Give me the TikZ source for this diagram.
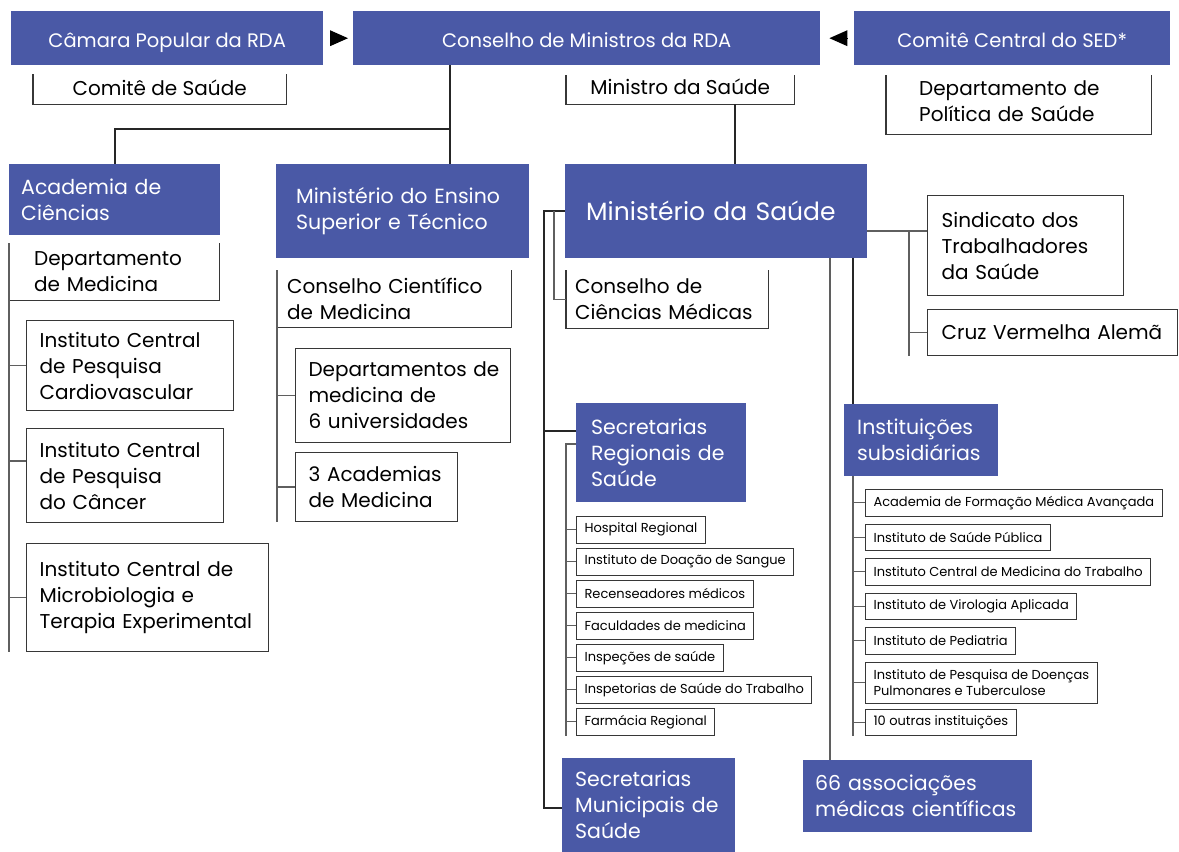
\documentclass[tikz,border=0pt]{standalone}
\usepackage{fontspec}
\setmainfont{Poppins}
\usepackage{tikz}
\usetikzlibrary{positioning}
\usetikzlibrary{arrows.meta}
\definecolor{ddrblue}{RGB}{74,89,166}
\definecolor{linegray}{RGB}{95,95,95}
\definecolor{boxgray}{RGB}{55,55,55}
\tikzset{
head_box/.style={rectangle, fill=ddrblue, text=white, anchor=north west, minimum height=54pt, inner sep=0pt, text height=18pt, text depth=0pt, font=\fontsize{19.5}{24}\selectfont},
blue_box/.style={rectangle, fill=ddrblue, text=white, anchor=north west, align=left, inner sep=0pt, font=\fontsize{20.5}{26}\selectfont},
open_box/.style={rectangle, anchor=north west, align=left, inner sep=0pt, font=\fontsize{20}{26}\selectfont},
frame_box/.style={rectangle, draw=boxgray, line width=1.2pt, anchor=north west, align=left, inner sep=0pt, font=\fontsize{20}{26}\selectfont},
list_item/.style={rectangle, draw=boxgray, line width=1.1pt, anchor=north west, align=left, inner xsep=8pt, inner ysep=0pt, minimum height=26.5pt, font=\fontsize{13}{16}\selectfont},
text_indent/.style={execute at begin node={\leftskip=#1\relax}},
main_line/.style={draw=black!85, line width=2pt},
sub_line/.style={draw=linegray, line width=1.3pt},
bracket/.style={draw=boxgray, line width=1.2pt},
tri_arrow/.style={-{Triangle[length=18pt, width=16pt]}, line width=0pt, fill=black}
}

\begin{document}
\begin{tikzpicture}[x=1pt, y=-1pt]
    \useasboundingbox (0,0) rectangle (1179,852);
    % top row
    \node[head_box, minimum width=312pt] (camara) at (11,11) {Câmara Popular da RDA};
    \node[head_box, minimum width=467pt] (min_council) at (353,11) {Conselho de Ministros da RDA};
    \node[head_box, minimum width=316pt] (sed) at (854,11) {Comitê Central do SED*};
    \draw[tri_arrow, shorten <=7pt, shorten >=5pt] (camara) -- (min_council);
    \draw[tri_arrow, shorten <=7pt, shorten >=9pt] (sed) -- (min_council);

    \node[open_box, minimum width=253pt, minimum height=27pt, align=center] (health_committee) at (33,74) {Comitê de Saúde};
    \node[open_box, minimum width=228pt, minimum height=24pt, align=center] (health_minister) at (566,75) {Ministro da Saúde};
    \node[open_box, text width=265pt, text_indent=33pt, minimum height=51pt] (policy_dept) at (886,75) {Departamento de\\Política de Saúde};
    \draw[bracket] (health_committee.north west) |- ([yshift=-3pt]health_committee.south east) -- (health_committee.north east);
    \draw[bracket] (health_minister.north west) |- ([yshift=-5pt]health_minister.south east) -- (health_minister.north east);
    \draw[bracket] (policy_dept.north west) |- ([yshift=-8pt]policy_dept.south east) -- (policy_dept.north east);

    % ministries
    \node[blue_box, text width=211pt, text_indent=12pt, minimum height=71pt] (academy) at (9,164) {Academia de\\Ciências};
    \node[blue_box, text width=253pt, text_indent=20pt, minimum height=94pt] (higher_edu) at (276,164) {Ministério do Ensino\\Superior e Técnico};
    \node[blue_box, text width=302pt, text_indent=21pt, minimum height=94pt, font=\fontsize{25}{30}\selectfont] (health_ministry) at (565,164) {Ministério da Saúde};

    % academia de ciencias
    \node[open_box, text width=210pt, text_indent=25pt, minimum height=57pt] (med_dept) at (9,243) {Departamento\\de Medicina};
    \node[frame_box, text width=207pt, text_indent=13pt, minimum height=90pt] (cardio) at (26,320) {Instituto Central\\de Pesquisa\\Cardiovascular};
    \node[frame_box, text width=197pt, text_indent=13pt, minimum height=94pt] (cancer) at (26,428) {Instituto Central\\de Pesquisa\\do Câncer};
    \node[frame_box, text width=242pt, text_indent=13pt, minimum height=108pt] (microbio) at (26,543) {Instituto Central de\\Microbiologia e\\Terapia Experimental};

    % ensino superior
    \node[open_box, text width=234pt, text_indent=10pt, minimum height=57pt] (sci_council) at (277,270) {Conselho Científico\\de Medicina};
    \node[frame_box, text width=215pt, text_indent=13pt, minimum height=94pt] (univ_depts) at (295,348) {Departamentos de\\medicina de\\6 universidades};
    \node[frame_box, text width=162pt, text_indent=13pt, minimum height=69pt] (med_academies) at (295,452) {3 Academias\\de Medicina};

    % saude
    \node[open_box, text width=202pt, text_indent=9pt, minimum height=58pt] (med_council) at (566,270) {Conselho de\\Ciências Médicas};
    \node[frame_box, text width=196pt, text_indent=14pt, minimum height=100pt] (union) at (927,195) {Sindicato dos\\Trabalhadores\\da Saúde};
    \node[frame_box, text width=250pt, text_indent=14pt, minimum height=46pt] (red_cross) at (927,309) {Cruz Vermelha Alemã};
    \node[blue_box, text width=170pt, text_indent=15pt, minimum height=99pt] (regional) at (576,403) {Secretarias\\Regionais de\\Saúde};
    \node[blue_box, text width=173pt, text_indent=13pt, minimum height=94pt] (municipal) at (562,758) {Secretarias\\Municipais de\\Saúde};
    \node[blue_box, text width=154pt, text_indent=13pt, minimum height=72pt] (subsidiary) at (844,404) {Instituições\\subsidiárias};
    \node[blue_box, text width=229pt, text_indent=12pt, minimum height=72pt] (associations) at (803,760) {66 associações\\médicas científicas};

    \node[list_item] (hospital) at (576,516) {Hospital Regional};
    \node[list_item, below=4.4pt of hospital.south west, anchor=north west] (blood) {Instituto de Doação de Sangue};
    \node[list_item, below=4.4pt of blood.south west, anchor=north west] (census) {Recenseadores médicos};
    \node[list_item, below=4.4pt of census.south west, anchor=north west] (faculties) {Faculdades de medicina};
    \node[list_item, below=4.4pt of faculties.south west, anchor=north west] (inspections) {Inspeções de saúde};
    \node[list_item, below=4.4pt of inspections.south west, anchor=north west] (labour_insp) {Inspetorias de Saúde do Trabalho};
    \node[list_item, below=4.4pt of labour_insp.south west, anchor=north west] (pharmacy) {Farmácia Regional};

    \node[list_item] (adv_training) at (865,489) {Academia de Formação Médica Avançada};
    \node[list_item, below=6.9pt of adv_training.south west, anchor=north west] (public_health) {Instituto de Saúde Pública};
    \node[list_item, below=6.9pt of public_health.south west, anchor=north west] (occupational) {Instituto Central de Medicina do Trabalho};
    \node[list_item, below=6.9pt of occupational.south west, anchor=north west] (virology) {Instituto de Virologia Aplicada};
    \node[list_item, below=6.9pt of virology.south west, anchor=north west] (pediatrics) {Instituto de Pediatria};
    \node[list_item, below=6.9pt of pediatrics.south west, anchor=north west, minimum height=41pt] (pulmonary) {Instituto de Pesquisa de Doenças\\Pulmonares e Tuberculose};
    \node[list_item, below=4.9pt of pulmonary.south west, anchor=north west] (others) {10 outras instituições};

    % open boxes
    \draw[bracket] (med_dept.north west) |- (med_dept.south east) -- (med_dept.north east);
    \draw[bracket] (sci_council.north west) |- (sci_council.south east) -- (sci_council.north east);
    \draw[bracket] (med_council.north west) |- (med_council.south east) -- (med_council.north east);

    % main links
    \coordinate (edu_split) at (450,129);
    \draw[main_line] (edu_split |- min_council.south) -- (edu_split) -| (academy.north);
    \draw[main_line] (edu_split) -- (edu_split |- higher_edu.north);
    \coordinate (minister_link) at (735,104);
    \draw[main_line] (minister_link) -- (minister_link |- health_ministry.north);
    \coordinate (left_spine) at (544,0);
    \coordinate (regional_in) at ([yshift=-28pt]regional.north west);
    \coordinate (municipal_in) at ([yshift=-50pt]municipal.north west);
    \draw[main_line] (health_ministry.west) -| (left_spine |- municipal_in) -- (municipal_in);
    \draw[main_line] (left_spine |- regional_in) -- (regional_in);
    \coordinate (sub_spine) at (853,0);
    \draw[main_line] (sub_spine |- health_ministry.south) -- (sub_spine |- subsidiary.north);

    % academia de ciencias links
    \draw[sub_line] (med_dept.north west) -- (med_dept.north west |- microbio.south);
    \draw[sub_line] (med_dept.west |- cardio.west) -- (cardio.west);
    \draw[sub_line] (med_dept.west |- 0,461) -- (cancer.west |- 0,461);
    \draw[sub_line] (med_dept.west |- microbio.west) -- (microbio.west);

    % ensino superior links
    \draw[sub_line] (sci_council.north west) -- (sci_council.north west |- med_academies.south);
    \draw[sub_line] (sci_council.west |- univ_depts.west) -- (univ_depts.west);
    \draw[sub_line] (sci_council.west |- med_academies.west) -- (med_academies.west);

    % saude links
    \coordinate (council_link) at (554,0);
    \draw[sub_line] (council_link |- health_ministry.west) -- (council_link |- med_council.west) -- (med_council.west);
    \coordinate (assoc_link) at (830,0);
    \draw[sub_line] (assoc_link |- health_ministry.south) -- (assoc_link |- associations.north);
    \coordinate (union_split) at (909,0);
    \coordinate (right_out) at ([yshift=-67pt]health_ministry.north east);
    \draw[sub_line] (right_out) -- (union.west |- right_out);
    \draw[sub_line] (union_split |- right_out) -- (union_split |- red_cross.south);
    \draw[sub_line] (union_split |- red_cross.west) -- (red_cross.west);

    % secretarias regionais
    \coordinate (reg_spine) at (566,0);
    \draw[sub_line] ([yshift=-41pt]regional.north west) -| (reg_spine |- pharmacy.south);
    \draw[sub_line] (reg_spine |- hospital.west) -- (hospital.west);
    \draw[sub_line] (reg_spine |- blood.west) -- (blood.west);
    \draw[sub_line] (reg_spine |- census.west) -- (census.west);
    \draw[sub_line] (reg_spine |- faculties.west) -- (faculties.west);
    \draw[sub_line] (reg_spine |- inspections.west) -- (inspections.west);
    \draw[sub_line] (reg_spine |- labour_insp.west) -- (labour_insp.west);
    \draw[sub_line] (reg_spine |- pharmacy.west) -- (pharmacy.west);

    % instituicoes subsidiarias
    \draw[sub_line] (sub_spine |- subsidiary.south) -- (sub_spine |- others.south);
    \draw[sub_line] (sub_spine |- adv_training.west) -- (adv_training.west);
    \draw[sub_line] (sub_spine |- public_health.west) -- (public_health.west);
    \draw[sub_line] (sub_spine |- occupational.west) -- (occupational.west);
    \draw[sub_line] (sub_spine |- virology.west) -- (virology.west);
    \draw[sub_line] (sub_spine |- pediatrics.west) -- (pediatrics.west);
    \draw[sub_line] (sub_spine |- pulmonary.west) -- (pulmonary.west);
    \draw[sub_line] (sub_spine |- others.west) -- (others.west);
\end{tikzpicture}
\end{document}
